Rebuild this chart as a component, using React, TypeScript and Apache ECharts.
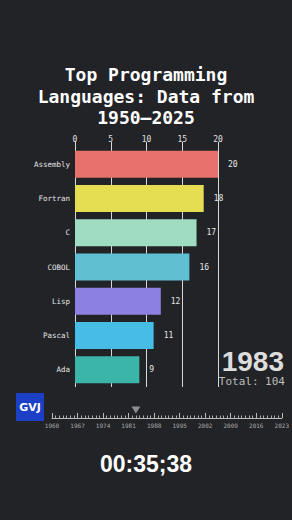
import React, { useEffect, useRef } from "react";
import * as echarts from "echarts";

const categories = ["Assembly", "Fortran", "C", "COBOL", "Lisp", "Pascal", "Ada"];
const values = [20, 18, 17, 16, 12, 11, 9];
const barColors = ["#e8716b", "#e6de52", "#9fdcc2", "#5fc0d2", "#8c80e2", "#47bde6", "#3bb4aa"];
const xTicks = [0, 5, 10, 15, 20];
const timelineYears = [1960, 1967, 1974, 1981, 1988, 1995, 2002, 2009, 2016, 2023];
const currentYear = 1983;
const total = 104;
const titleText = "Top Programming\nLanguages: Data from\n1950–2025";
const timerText = "00:35;38";

const BG = "#222327";
const MONO = "'DejaVu Sans Mono', monospace";

export default function App() {
  const ref = useRef<HTMLDivElement>(null);
  useEffect(() => {
    document.body.style.margin = "0";
    document.body.style.background = BG;
    const chart = echarts.init(ref.current!, null, { renderer: "svg" });
    chart.setOption({
      animation: false,
      backgroundColor: BG,
      grid: [
        { left: 75, width: 143, top: 147, height: 240 },
        { left: 52, width: 232, top: 400, height: 18 },
      ],
      xAxis: [
        {
          gridIndex: 0,
          type: "value",
          position: "top",
          min: xTicks[0],
          max: xTicks[xTicks.length - 1],
          interval: 5,
          axisLine: { show: false },
          axisTick: { show: true, length: 5, lineStyle: { color: "#d8d8d8" } },
          axisLabel: { color: "#e0e0e0", fontFamily: MONO, fontSize: 8, margin: 4 },
          splitLine: { show: true, lineStyle: { color: "#d8d8d8", width: 1 } },
        },
        {
          gridIndex: 1,
          type: "value",
          position: "bottom",
          min: timelineYears[0],
          max: timelineYears[timelineYears.length - 1],
          interval: 7,
          axisLine: { show: true, lineStyle: { color: "#bbbbbb", width: 1 } },
          axisTick: { show: true, inside: true, length: 5, lineStyle: { color: "#bbbbbb" } },
          minorTick: { show: true, splitNumber: 7, length: 2.5, lineStyle: { color: "#aaaaaa" } },
          axisLabel: {
            color: "#aaaaaa",
            fontFamily: MONO,
            fontSize: 6,
            margin: 4,
            formatter: (v: number) => String(v),
          },
          splitLine: { show: false },
        },
      ],
      yAxis: [
        {
          gridIndex: 0,
          type: "category",
          inverse: true,
          data: categories,
          axisLine: { show: false },
          axisTick: { show: false },
          axisLabel: { color: "#e6e6e6", fontFamily: MONO, fontSize: 7.5, margin: 5 },
        },
        {
          gridIndex: 1,
          type: "value",
          min: 0,
          max: 1,
          show: false,
        },
      ],
      series: [
        {
          type: "bar",
          xAxisIndex: 0,
          yAxisIndex: 0,
          barWidth: 27,
          data: values.map((v, i) => ({ value: v, itemStyle: { color: barColors[i] } })),
          label: {
            show: true,
            position: "right",
            distance: 10,
            color: "#e6e6e6",
            fontFamily: MONO,
            fontSize: 8,
          },
        },
        {
          type: "scatter",
          xAxisIndex: 1,
          yAxisIndex: 1,
          symbol: "triangle",
          symbolRotate: 180,
          symbolSize: [9, 7],
          itemStyle: { color: "#a8a8a8" },
          data: [[currentYear, 0.45]],
        },
      ],
      graphic: [
        {
          type: "text",
          x: 146,
          y: 64,
          style: {
            text: titleText,
            fill: "#ffffff",
            font: "bold 18px 'DejaVu Sans Mono', monospace",
            lineHeight: 21.5,
            textAlign: "center",
            textVerticalAlign: "top",
          },
        },
        {
          type: "text",
          x: 284,
          y: 361,
          style: {
            text: String(currentYear),
            fill: "#dddddd",
            font: "bold 28px 'Liberation Sans', Arial, sans-serif",
            lineHeight: 24,
            textAlign: "right",
            textVerticalAlign: "middle",
          },
        },
        {
          type: "text",
          x: 285,
          y: 381.5,
          style: {
            text: "Total: " + total,
            fill: "#bdbdbd",
            font: "11px 'DejaVu Sans Mono', monospace",
            lineHeight: 11,
            textAlign: "right",
            textVerticalAlign: "middle",
          },
        },
        {
          type: "group",
          left: 16,
          top: 393,
          children: [
            { type: "rect", shape: { x: 0, y: 0, width: 28, height: 28 }, style: { fill: "#1c3fc6" } },
            {
              type: "text",
              x: 14,
              y: 14,
              style: {
                text: "GVJ",
                fill: "#ffffff",
                font: "bold 11px 'DejaVu Sans', sans-serif",
                textAlign: "center",
                textVerticalAlign: "middle",
              },
            },
          ],
        },
        {
          type: "text",
          left: "center",
          top: 452,
          style: {
            text: timerText,
            fill: "#ffffff",
            font: "bold 23px 'Liberation Sans', Arial, sans-serif",
          },
        },
      ],
    });
    return () => chart.dispose();
  }, []);
  return <div ref={ref} style={{ width: 292, height: 520 }} />;
}
